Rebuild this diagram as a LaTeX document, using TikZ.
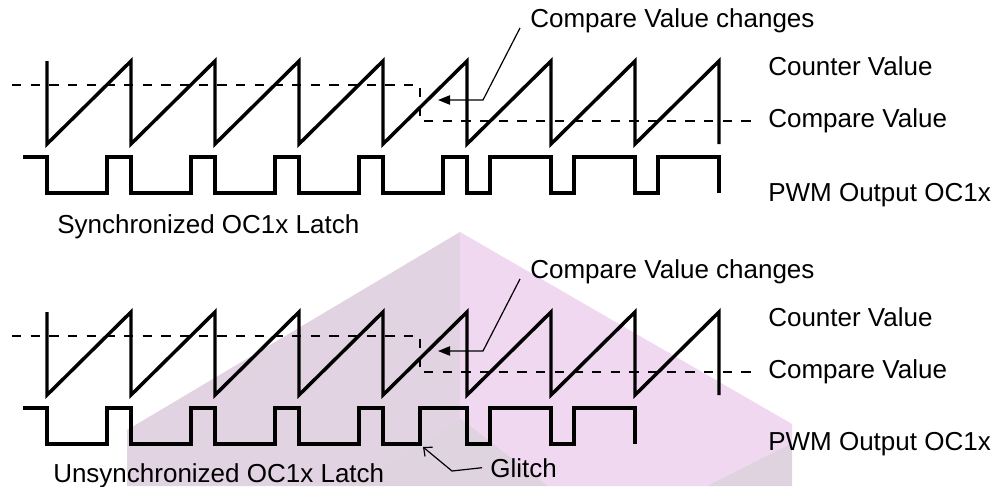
\documentclass[tikz,border=0pt]{standalone}
\usepackage{fontspec}
\setmainfont{Liberation Sans}
\usepackage{xcolor}
\usetikzlibrary{arrows.meta,calc}

\definecolor{wmleft}{HTML}{E1D3E1}
\definecolor{wmright}{HTML}{F1D8F1}
\definecolor{wmbottom}{HTML}{DED3DE}

\tikzset{
  wave/.style={line width=2.6pt},
  cmpline/.style={line width=1.7pt, dash pattern=on 7pt off 7pt},
  leader/.style={line width=0.9pt},
  lbl/.style={inner sep=0pt, anchor=base west, font=\fontsize{19.5}{23}\selectfont},
}

\begin{document}
\begin{tikzpicture}[x=0.75pt, y=-0.75pt]
    \useasboundingbox (0,0) rectangle (1003,486);

    % 背景水印（立方体）
    \fill[wmleft] (127,430) -- (460,232) -- (460,418) -- (350,486) -- (127,486) -- cycle;
    \fill[wmright] (460,232) -- (792,424) -- (792,443) -- (707,486) -- (548,486) -- (460,418) -- cycle;
    \fill[wmbottom] (460,418) -- (548,486) -- (350,486) -- cycle;
    \fill[wmbottom] (792,443) -- (792,486) -- (707,486) -- cycle;

    % 上半部分：同步锁存
    % 计数值（锯齿波）
    \draw[wave] (47,61) -- (47,144)
        \foreach \k in {1,...,8} { -- ({47+84*\k},61) -- ({47+84*\k},144) };
    % 比较值（虚线）
    \draw[cmpline] (12,85) -- (420,85) -- (420,121) -- (757,121);
    % PWM 输出
    \draw[wave] (23,157) -- (47,157) -- (47,193)
        \foreach \s/\d in {47/60,131/60,215/60,299/60,383/60,467/23,551/23,635/23}
            { -- ({\s+\d},193) -- ({\s+\d},157) -- ({\s+84},157) -- ({\s+84},193) };

    % 标签
    \node[lbl] (chgA) at (530,27) {Compare Value changes};
    \node[lbl] (cntA) at (768,75) {Counter Value};
    \node[lbl] (cmpA) at (768,127) {Compare Value};
    \node[lbl] (pwmA) at (768,201) {PWM Output OC1x};
    \node[lbl] (latchA) at (57,233) {Synchronized OC1x Latch};

    % 指向比较值变化处的箭头
    \coordinate (kinkA) at (483,100);
    \coordinate (tipA) at (438,100);
    \draw[leader, -{Triangle[length=9pt,width=7pt]}]
        ([xshift=-7.5pt,yshift=-0.75pt]chgA.base west) -- (kinkA) -- (tipA);

    % 下半部分：非同步锁存
    \begin{scope}[shift={(0,251)}]
        % 计数值（锯齿波）
        \draw[wave] (47,61) -- (47,144)
            \foreach \k in {1,...,8} { -- ({47+84*\k},61) -- ({47+84*\k},144) };
        % 比较值（虚线）
        \draw[cmpline] (12,85) -- (420,85) -- (420,121) -- (757,121);
        % PWM 输出（在 420 处出现毛刺）
        \draw[wave] (23,157) -- (47,157) -- (47,193)
            \foreach \s/\d in {47/60,131/60,215/60,299/60,383/37,467/23,551/23}
                { -- ({\s+\d},193) -- ({\s+\d},157) -- ({\s+84},157) -- ({\s+84},193) };

        % 标签
        \node[lbl] (chgB) at (530,27) {Compare Value changes};
        \node[lbl] (cntB) at (768,75) {Counter Value};
        \node[lbl] (cmpB) at (768,127) {Compare Value};
        \node[lbl] (pwmB) at (768,199) {PWM Output OC1x};
        \node[lbl] (latchB) at (53,231) {Unsynchronized OC1x Latch};
        \node[lbl] (glitch) at (490,226) {Glitch};

        % 箭头
        \coordinate (kinkB) at (483,100);
        \coordinate (tipB) at (438,100);
        \draw[leader, -{Triangle[length=9pt,width=7pt]}]
            ([xshift=-7.5pt,yshift=-0.75pt]chgB.base west) -- (kinkB) -- (tipB);
        \coordinate (kinkG) at (452,220);
        \coordinate (tipG) at (423,196);
        \draw[leader, -{Straight Barb[length=5pt,width=9pt]}]
            ([xshift=-6pt]glitch.west) -- (kinkG) -- (tipG);
    \end{scope}
\end{tikzpicture}
\end{document}
